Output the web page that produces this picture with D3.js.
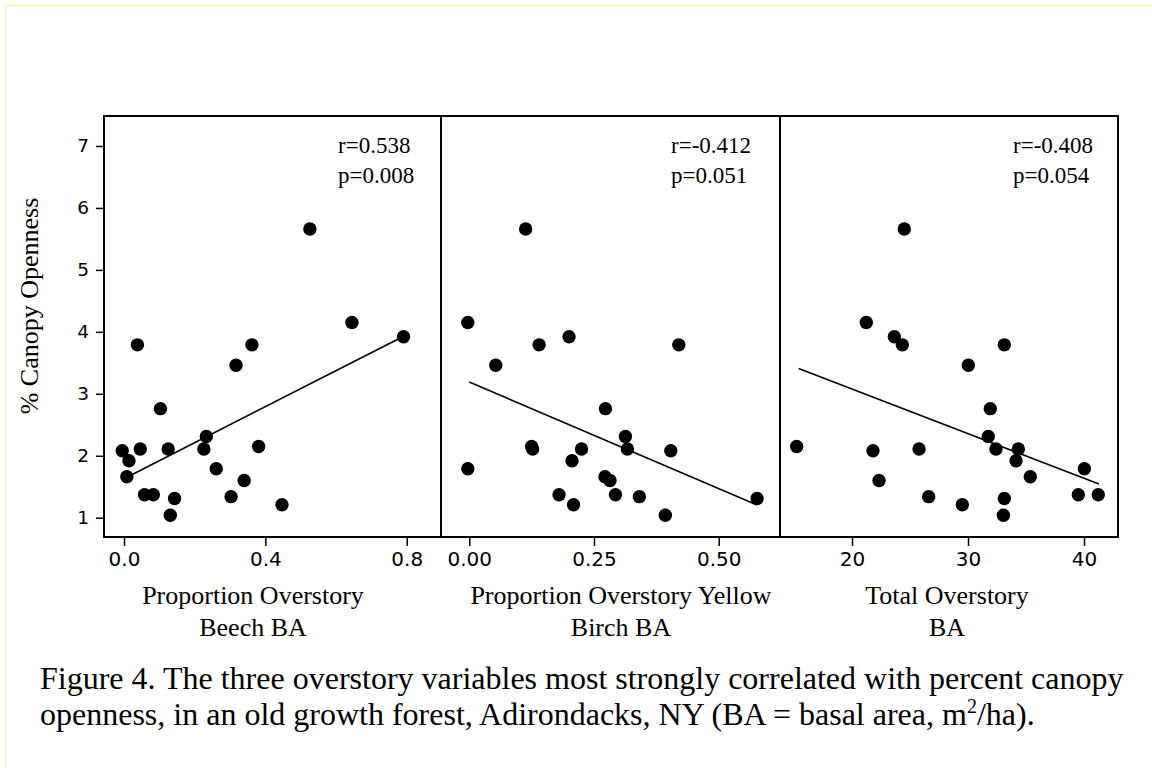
<!DOCTYPE html>
<html>
<head>
<meta charset="utf-8">
<script src="https://cdn.jsdelivr.net/npm/d3@7"></script>
<style>
html,body{margin:0;padding:0;background:#fff;}
svg{display:block;}
</style>
</head>
<body>
<svg id="chart" width="1152" height="768"></svg>
<script>
// ---------- data ----------
const beechX = [0.526,0.645,0.791,0.038,0.362,0.317,0.103,0.233,-0.005,0.046,0.125,0.226,0.381,0.014,0.008,0.261,0.340,0.058,0.083,0.143,0.303,0.131,0.447];
const beechY = [5.66,4.15,3.92,3.79,3.79,3.46,2.76,2.31,2.08,2.11,2.11,2.11,2.15,1.92,1.66,1.79,1.60,1.37,1.37,1.31,1.34,1.04,1.21];
const birchX = [0.113,-0.003,0.140,0.200,0.420,0.053,0.273,0.313,0.125,0.127,0.225,0.317,0.404,0.206,-0.003,0.272,0.282,0.180,0.293,0.341,0.577,0.209,0.393];
const birchY = [5.66,4.15,3.79,3.92,3.79,3.46,2.76,2.31,2.15,2.11,2.11,2.11,2.08,1.92,1.79,1.66,1.60,1.37,1.37,1.34,1.31,1.21,1.04];
const totalX = [24.51,21.23,23.65,24.34,33.13,30.03,31.92,31.75,15.23,21.81,25.78,32.41,34.34,34.14,40.03,35.37,22.33,26.61,33.13,39.51,41.23,29.51,33.05];
const totalY = [5.66,4.15,3.92,3.79,3.79,3.46,2.76,2.31,2.15,2.08,2.11,2.11,2.11,1.92,1.79,1.66,1.60,1.34,1.31,1.37,1.37,1.21,1.04];

// regression line end points [x, y]
const beechFit = [[0.0, 1.63],[0.79, 3.925]];
const birchFit = [[0.0, 3.19],[0.577, 1.205]];
const totalFit = [[15.40, 3.41],[41.29, 1.544]];

const beechTicks = [0.0, 0.4, 0.8];
const birchTicks = [0.0, 0.25, 0.5];
const totalTicks = [20, 30, 40];
const yTicks = [1,2,3,4,5,6,7];

const rLabels = ["r=0.538","r=-0.412","r=-0.408"];
const pLabels = ["p=0.008","p=0.051","p=0.054"];
const xTitles = [["Proportion Overstory","Beech BA"],["Proportion Overstory Yellow","Birch BA"],["Total Overstory","BA"]];
const yTitle = "% Canopy Openness";

// ---------- layout ----------
const svg = d3.select("#chart");
const serif = "'Liberation Serif','Times New Roman',serif";
const sans = "'DejaVu Sans',Verdana,sans-serif";
const plotTop = 116, plotBottom = 537;

// page edges
svg.append("line").attr("x1",5).attr("x2",1152).attr("y1",5.5).attr("y2",5.5).attr("stroke","#f8f890").attr("stroke-width",1);
svg.append("line").attr("x1",5.5).attr("x2",5.5).attr("y1",5).attr("y2",768).attr("stroke","#f2f2c8").attr("stroke-width",1);

const y = d3.scaleLinear().domain([0.6885, 7.484]).range([plotBottom, plotTop]);

const panels = [
  {x0:104, x1:441, domain:[-0.0566, 0.897], xs:beechX, ys:beechY, fit:beechFit, ticks:beechTicks, fmt:d3.format(".1f"), statX:338, titleX:253},
  {x0:441, x1:780, domain:[-0.0567, 0.6229], xs:birchX, ys:birchY, fit:birchFit, ticks:birchTicks, fmt:d3.format(".2f"), statX:671, titleX:621},
  {x0:780, x1:1118, domain:[13.793, 42.931], xs:totalX, ys:totalY, fit:totalFit, ticks:totalTicks, fmt:d3.format("d"), statX:1013, titleX:947}
];

panels.forEach((p, i) => {
  const x = d3.scaleLinear().domain(p.domain).range([p.x0, p.x1]);
  const g = svg.append("g");

  // x axis ticks
  const xa = d3.axisBottom(x).tickValues(p.ticks).tickFormat(p.fmt).tickSize(9).tickSizeOuter(0).tickPadding(6);
  const gx = g.append("g").attr("transform", `translate(0,${plotBottom})`).call(xa);
  gx.select(".domain").remove();
  gx.selectAll(".tick line").attr("stroke","#000").attr("stroke-width",1.5);
  gx.selectAll(".tick text").attr("font-family", sans).attr("font-size", 20).attr("fill","#000");

  // y axis only on first panel
  if (i === 0) {
    const ya = d3.axisLeft(y).tickValues(yTicks).tickFormat(d3.format("d")).tickSize(8).tickSizeOuter(0).tickPadding(7);
    const gy = g.append("g").attr("transform", `translate(${p.x0},0)`).call(ya);
    gy.select(".domain").remove();
    gy.selectAll(".tick line").attr("stroke","#000").attr("stroke-width",1.5);
    gy.selectAll(".tick text").attr("font-family", sans).attr("font-size", 18.5).attr("fill","#000");
  }

  // points
  g.selectAll("circle").data(p.xs.map((v,k)=>[v,p.ys[k]])).join("circle")
    .attr("cx", d => x(d[0])).attr("cy", d => y(d[1])).attr("r", 6.7).attr("fill","#000");

  // regression line
  g.append("line")
    .attr("x1", x(p.fit[0][0])).attr("y1", y(p.fit[0][1]))
    .attr("x2", x(p.fit[1][0])).attr("y2", y(p.fit[1][1]))
    .attr("stroke","#000").attr("stroke-width",1.6);

  // stats
  g.append("text").attr("x", p.statX).attr("y", 153).attr("font-family", serif).attr("font-size", 23).text(rLabels[i]);
  g.append("text").attr("x", p.statX).attr("y", 183).attr("font-family", serif).attr("font-size", 23).text(pLabels[i]);

  // x titles
  xTitles[i].forEach((t, k) => {
    g.append("text").attr("x", p.titleX).attr("y", 604 + k*32).attr("text-anchor","middle")
      .attr("font-family", serif).attr("font-size", 26).text(t);
  });

  // frame
  g.append("rect").attr("x", p.x0).attr("y", plotTop).attr("width", p.x1 - p.x0).attr("height", plotBottom - plotTop)
    .attr("fill","none").attr("stroke","#000").attr("stroke-width",2);
});

// y title
svg.append("text").attr("transform","translate(38,306) rotate(-90)").attr("text-anchor","middle")
  .attr("font-family", serif).attr("font-size", 26).text(yTitle);

// caption
svg.append("text").attr("font-family", serif).attr("font-size", 32).attr("fill","#000")
  .attr("x", 40).attr("y", 689).text("Figure 4. The three overstory variables most strongly correlated with percent canopy");
const cap2 = svg.append("text").attr("font-family", serif).attr("font-size", 32).attr("fill","#000")
  .attr("x", 40).attr("y", 725);
cap2.append("tspan").text("openness, in an old growth forest, Adirondacks, NY (BA = basal area, m");
cap2.append("tspan").attr("dy", -12).attr("font-size", 20).text("2");
cap2.append("tspan").attr("dy", 12).text("/ha).");
</script>
</body>
</html>
